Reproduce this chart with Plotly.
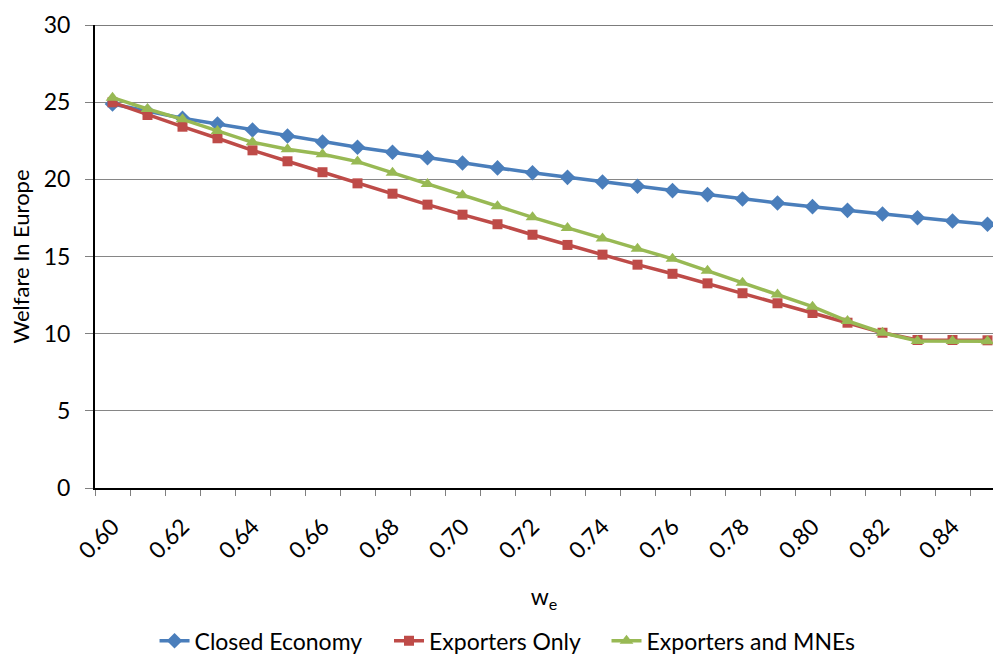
import plotly.graph_objects as go

# Data
w_e = [0.60, 0.61, 0.62, 0.63, 0.64, 0.65, 0.66, 0.67, 0.68, 0.69, 0.70, 0.71, 0.72,
       0.73, 0.74, 0.75, 0.76, 0.77, 0.78, 0.79, 0.80, 0.81, 0.82, 0.83, 0.84, 0.85]

closed_economy = [24.88, 24.40, 23.96, 23.59, 23.20, 22.81, 22.42, 22.08, 21.75, 21.40,
                  21.06, 20.74, 20.43, 20.13, 19.83, 19.55, 19.27, 19.01, 18.73, 18.47,
                  18.23, 17.99, 17.75, 17.51, 17.30, 17.09]

exporters_only = [24.99, 24.17, 23.41, 22.66, 21.88, 21.17, 20.46, 19.74, 19.07, 18.36,
                  17.71, 17.09, 16.41, 15.75, 15.12, 14.47, 13.88, 13.26, 12.62, 11.97,
                  11.34, 10.71, 10.06, 9.59, 9.59, 9.57]

exporters_mnes = [25.29, 24.56, 23.89, 23.13, 22.40, 21.95, 21.62, 21.15, 20.42, 19.70,
                  18.97, 18.25, 17.54, 16.85, 16.16, 15.51, 14.85, 14.08, 13.30, 12.53,
                  11.75, 10.82, 10.06, 9.53, 9.53, 9.51]

series_names = ["Closed Economy", "Exporters Only", "Exporters and MNEs"]
x_tick_vals = [0.60, 0.62, 0.64, 0.66, 0.68, 0.70, 0.72, 0.74, 0.76, 0.78, 0.80, 0.82, 0.84]
x_tick_text = ["0.60", "0.62", "0.64", "0.66", "0.68", "0.70", "0.72", "0.74", "0.76",
               "0.78", "0.80", "0.82", "0.84"]
y_tick_vals = [0, 5, 10, 15, 20, 25, 30]

FONT = "Lato"
FS = 23
colors = ["#4A7EBB", "#BE4B48", "#98B954"]
symbols = ["diamond", "square", "triangle-up"]
msizes = [12, 10, 12]
legend_ids = ["legend", "legend2", "legend3"]
legend_x = [0.0663, 0.3274, 0.5696]

fig = go.Figure()
for name, vals, c, s, ms, lid in zip(series_names,
                                     [closed_economy, exporters_only, exporters_mnes],
                                     colors, symbols, msizes, legend_ids):
    fig.add_trace(go.Scatter(
        x=w_e, y=vals, name=name, mode="lines+markers",
        line=dict(color=c, width=3.5),
        marker=dict(symbol=s, size=ms, color=c),
        cliponaxis=False, legend=lid,
    ))

step = 0.01
x_start = w_e[0] - step / 2
px_per_step = 35.0
plot_left = 95
fig_w = 993
x_end = x_start + (fig_w - plot_left) / px_per_step * step
minor_vals = [round(x_start + i * step, 4) for i in range(len(w_e) + 1)]

legend_common = dict(
    orientation="h", xanchor="left", y=-0.33, yanchor="middle",
    font=dict(family=FONT, size=FS, color="black"),
    itemwidth=30, bgcolor="rgba(0,0,0,0)",
)

fig.update_layout(
    width=993, height=655,
    margin=dict(l=95, r=0, t=25, b=167, autoexpand=False),
    paper_bgcolor="white", plot_bgcolor="white",
    font=dict(family=FONT, size=FS, color="black"),
    showlegend=True,
    legend=dict(x=legend_x[0], **legend_common),
    legend2=dict(x=legend_x[1], **legend_common),
    legend3=dict(x=legend_x[2], **legend_common),
)

fig.add_shape(type="line", xref="paper", yref="y", x0=0, x1=1,
              y0=y_tick_vals[-1], y1=y_tick_vals[-1],
              line=dict(color="#505050", width=1.5), layer="below")

fig.update_xaxes(
    range=[x_start, x_end], automargin=False,
    tickmode="array", tickvals=x_tick_vals, ticktext=x_tick_text,
    tickangle=-45, ticks="outside", ticklen=0,
    ticklabelstandoff=14,
    tickfont=dict(family=FONT, size=FS, color="black"),
    minor=dict(tickmode="array", tickvals=minor_vals, ticks="outside", ticklen=6,
               tickcolor="#808080", tickwidth=1, showgrid=False),
    showgrid=False, zeroline=False,
    showline=True, linecolor="black", linewidth=2,
    title=dict(text="w<sub>e</sub>", font=dict(family=FONT, size=FS, color="black"),
               standoff=26),
)

fig.update_yaxes(
    range=[0, 30], automargin=False, tickmode="array", tickvals=y_tick_vals,
    ticks="outside", ticklen=8, tickcolor="#808080", tickwidth=1,
    ticklabelstandoff=10,
    tickfont=dict(family=FONT, size=FS, color="black"),
    showgrid=True, gridcolor="#868686", gridwidth=1,
    zeroline=False,
    showline=True, linecolor="black", linewidth=2,
    title=dict(text="Welfare In Europe", font=dict(family=FONT, size=22, color="black"),
               standoff=8),
)

fig.write_html("out.html")
